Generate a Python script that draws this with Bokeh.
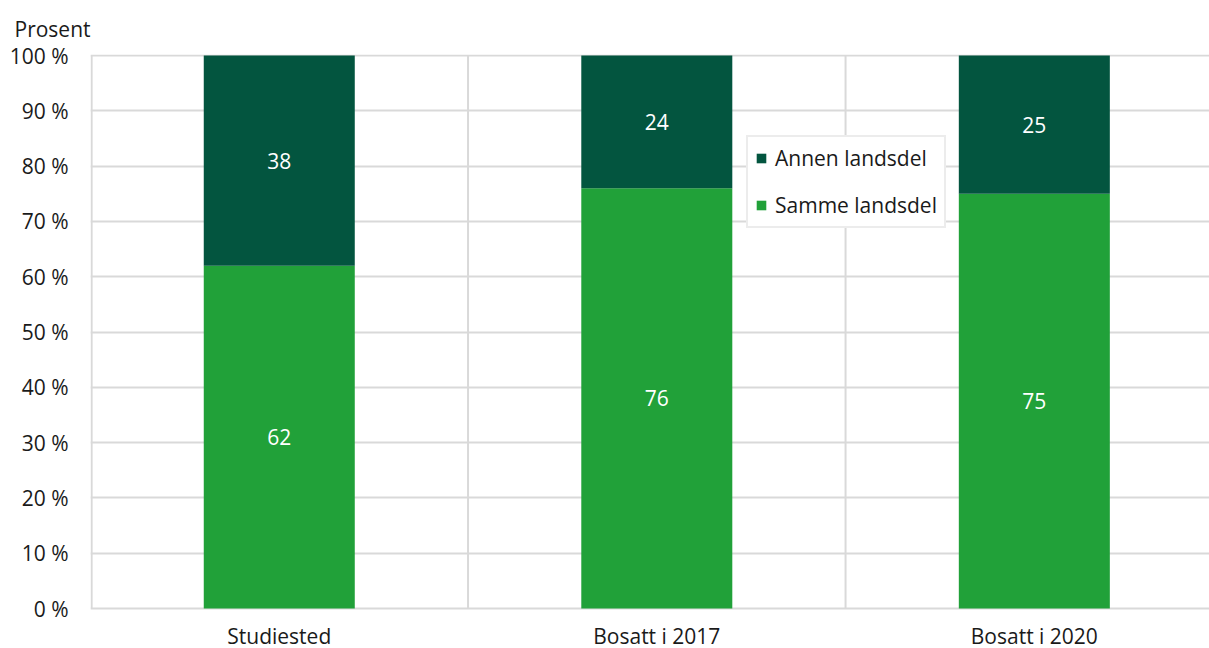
from bokeh.plotting import figure
from bokeh.models import Range1d, FixedTicker, Legend, LegendItem, ColumnDataSource
from bokeh.core.properties import value
from bokeh.embed import file_html
from bokeh.resources import INLINE

categories = ["Studiested", "Bosatt i 2017", "Bosatt i 2020"]
samme = [62, 76, 75]
annen = [38, 24, 25]
yticks = [0, 10, 20, 30, 40, 50, 60, 70, 80, 90, 100]
separators = [0.003, 1, 2]

FONT = "Open Sans"
DARK = "#03553f"
LIGHT = "#21a139"
GRID = "#d9d9d9"
TXT = "#1a1a1a"
FS = "21px"
PX = 5.53  # pixels per percent (layout only)

xs = [i + 0.5 for i in range(len(categories))]

p = figure(width=1209, height=648, output_backend="svg", toolbar_location=None,
           x_range=Range1d(0, 2.964), y_range=Range1d(-40 / PX, 100 + 1 / PX),
           min_border_left=90, min_border_right=0, min_border_top=54, min_border_bottom=0)
p.outline_line_color = None
p.background_fill_color = "white"

# vertical separators (from 0 to 100 only)
p.segment(x0=separators, y0=[0] * 3, x1=separators, y1=[100] * 3,
          line_color=GRID, line_width=2)

src = ColumnDataSource(dict(x=xs, samme=samme, annen=annen))
rs = p.vbar_stack(["samme", "annen"], x="x", width=0.4, source=src,
                  color=[LIGHT, DARK], line_color=None)

# data labels
lab_x = xs + xs
lab_y = [s / 2 for s in samme] + [s + a / 2 for s, a in zip(samme, annen)]
lab_t = [str(v) for v in samme] + [str(v) for v in annen]
p.text(x=lab_x, y=lab_y, text=lab_t, text_color="white", text_align="center",
       text_baseline="middle", text_font=value(FONT), text_font_size=FS)

# category labels
p.text(x=xs, y=[-27 / PX] * 3, text=categories, text_color=TXT, text_align="center",
       text_baseline="middle", text_font=value(FONT), text_font_size=FS)

# axes
p.xaxis.visible = False
p.xgrid.visible = False
p.yaxis.ticker = FixedTicker(ticks=yticks)
p.yaxis.major_label_overrides = {t: f"{t} %" for t in yticks}
ax = p.yaxis[0]
ax.axis_line_color = None
ax.major_tick_line_color = None
ax.minor_tick_line_color = None
ax.major_tick_out = 0
ax.major_tick_in = 0
ax.major_label_text_font = FONT
ax.major_label_text_font_size = FS
ax.major_label_text_color = TXT
ax.major_label_standoff = 22

p.ygrid.ticker = FixedTicker(ticks=yticks)
p.ygrid.grid_line_color = GRID
p.ygrid.grid_line_width = 2

legend = Legend(items=[LegendItem(label="Annen landsdel", renderers=[rs[1]]),
                       LegendItem(label="Samme landsdel", renderers=[rs[0]])],
                location=(656, 420))
legend.border_line_color = GRID
legend.border_line_width = 2
legend.glyph_width = 12
legend.glyph_height = 12
legend.label_height = 28
legend.spacing = 19
legend.padding = 7
legend.margin = 0
legend.label_standoff = 8
legend.label_text_font = FONT
legend.label_text_font_size = FS
legend.label_text_color = TXT
legend.background_fill_alpha = 1
p.add_layout(legend)

p.title.text = "Prosent"
p.title.align = "left"
p.title.offset = -76
p.title.text_font = FONT
p.title.text_font_size = FS
p.title.text_font_style = "normal"
p.title.text_color = TXT
p.title.standoff = 23

open("out.html", "w").write(file_html(p, INLINE))
